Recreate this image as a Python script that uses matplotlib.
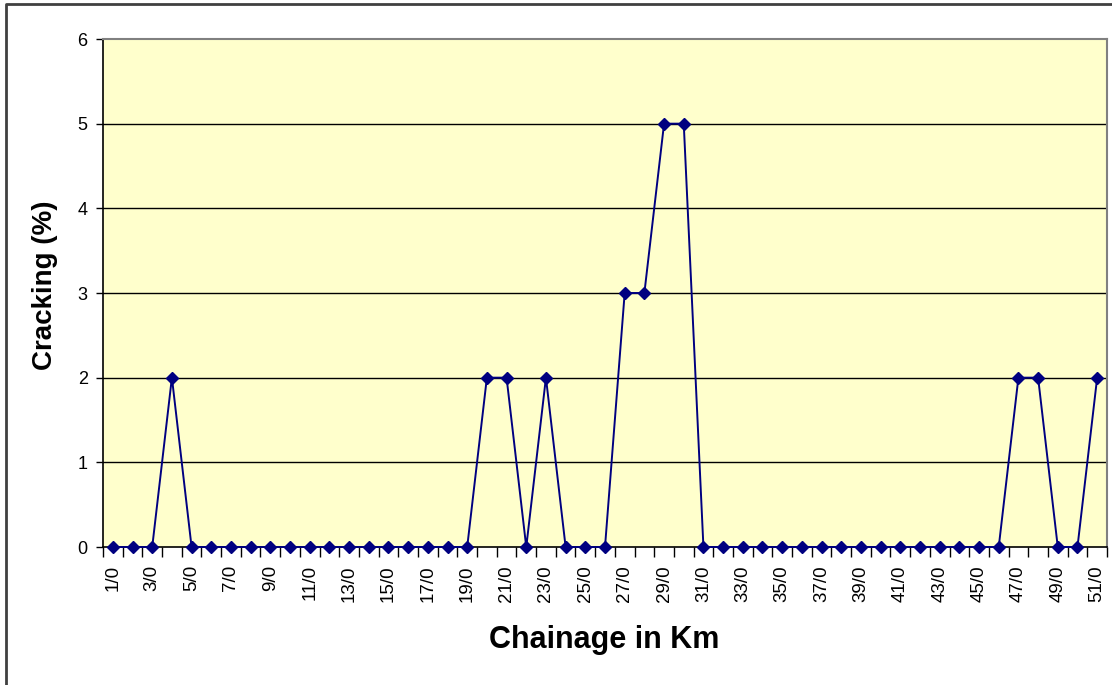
import matplotlib
matplotlib.use("Agg")
import matplotlib.pyplot as plt
from matplotlib.lines import Line2D

plt.rcParams['font.family'] = ['Liberation Sans', 'DejaVu Sans']

# DATA
chainage = [f"{k}/0" for k in range(1, 52)]
cracking = [0, 0, 0, 2, 0, 0, 0, 0, 0, 0,
            0, 0, 0, 0, 0, 0, 0, 0, 0, 2,
            2, 0, 2, 0, 0, 0, 3, 3, 5, 5,
            0, 0, 0, 0, 0, 0, 0, 0, 0, 0,
            0, 0, 0, 0, 0, 0, 2, 2, 0, 0,
            2]
y_ticks = [0, 1, 2, 3, 4, 5, 6]

W, H = 1112, 685
fig = plt.figure(figsize=(W / 100, H / 100), dpi=100)
ax = fig.add_axes([103 / W, 1 - 547 / H, (1107 - 103) / W, (547 - 39) / H])
ax.set_facecolor("#FFFFCC")

x = list(range(1, len(chainage) + 1))
ax.plot(x, cracking, color="#000080", lw=1.4, marker="D", markersize=6.5,
        markerfacecolor="#000080", markeredgecolor="#000080", zorder=3, clip_on=False)

ax.set_xlim(0.5, len(chainage) + 0.5)
ax.set_ylim(0, 6)

# gridlines
for v in y_ticks[1:-1]:
    ax.axhline(v, color="black", lw=1.0, zorder=1)

# y axis
ax.set_yticks(y_ticks)
ax.set_yticklabels([str(v) for v in y_ticks], fontsize=13)
ax.tick_params(axis="y", direction="out", length=5, width=1, pad=6, color="black")

# x axis: marks between categories, labels on every other category
ax.set_xticks([i + 0.5 for i in range(0, len(chainage) + 1)])
ax.set_xticklabels([])
ax.tick_params(axis="x", which="major", direction="out", length=7, width=1, color="black")
ax.set_xticks(x[::2], minor=True)
ax.set_xticklabels(chainage[::2], minor=True, rotation=90, fontsize=13.5)
ax.tick_params(axis="x", which="minor", length=0, pad=13)

for s in ("left", "bottom"):
    ax.spines[s].set_color("black")
    ax.spines[s].set_linewidth(1.2)
for s in ("top", "right"):
    ax.spines[s].set_color("#808080")
    ax.spines[s].set_linewidth(1.5)

fig.text(604 / W, 1 - 640 / H, "Chainage in Km", fontsize=22, fontweight="bold",
         ha="center", va="center")
fig.text(45 / W, 1 - 285 / H, "Cracking (%)", fontsize=20, fontweight="bold",
         rotation=90, ha="center", va="center")

# outer chart border
fig.add_artist(Line2D([5.5 / W, 5.5 / W, 1], [0, 1 - 4 / H, 1 - 4 / H],
                      transform=fig.transFigure, color="#404040", lw=2))

fig.savefig("out.png", dpi=100)
